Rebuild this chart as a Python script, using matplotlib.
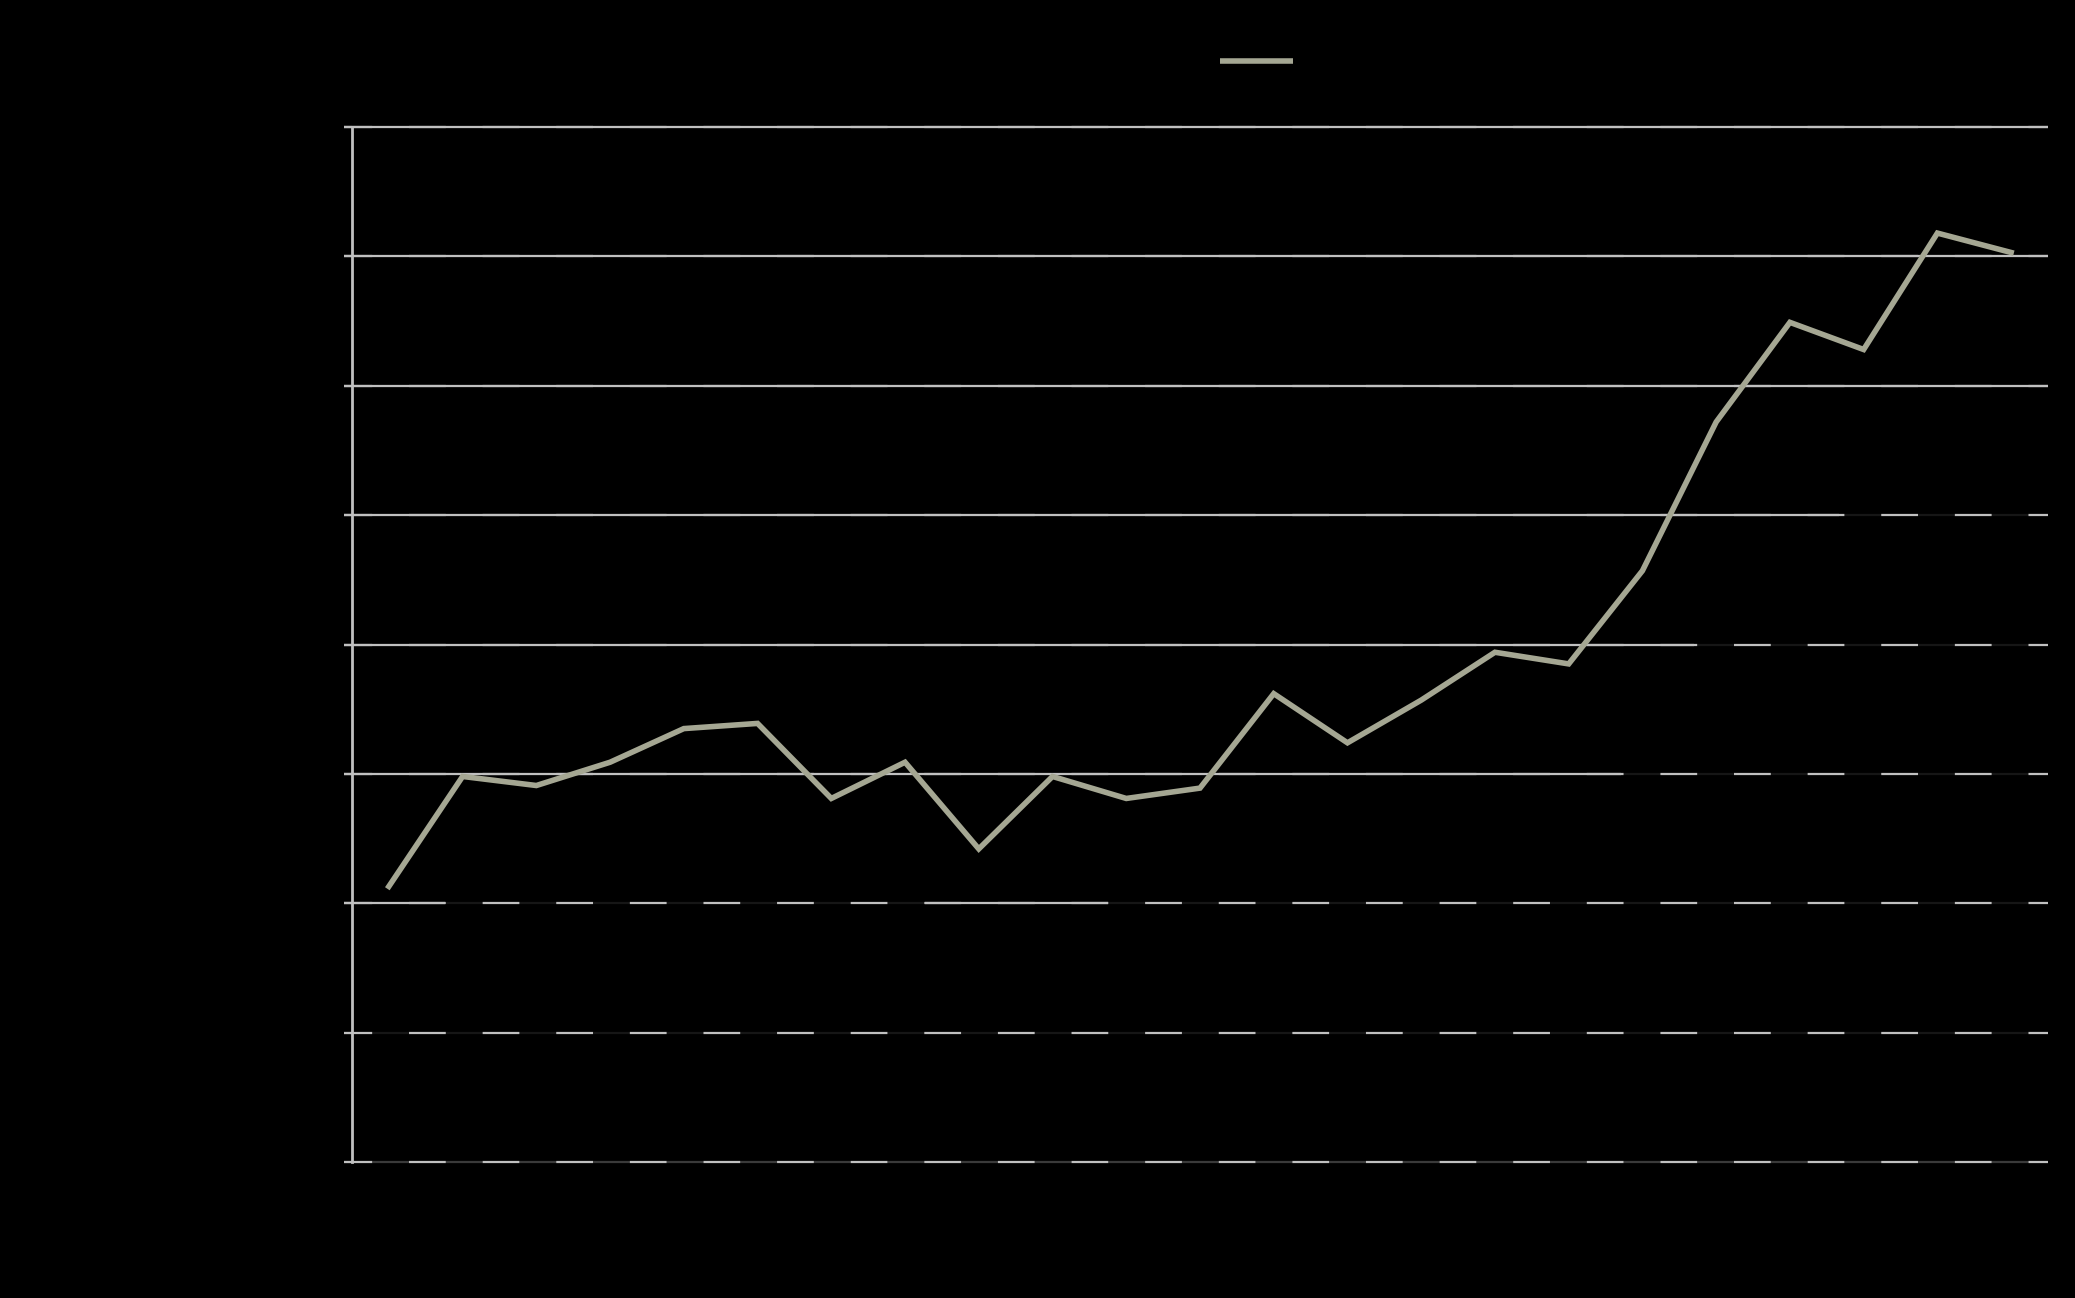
import numpy as np
import matplotlib.pyplot as plt
from matplotlib.lines import Line2D

plt.rcParams['lines.scale_dashes'] = False

#DATA (satuan = satu jarak grid)
kategori = list(range(1, 24))
nilai = [2.13, 2.98, 2.91, 3.09, 3.35, 3.39, 2.81, 3.09, 2.42, 2.98, 2.81, 2.89,
         3.62, 3.24, 3.57, 3.94, 3.85, 4.57, 5.72, 6.49, 6.28, 7.18, 7.03]
y_ticks = [0, 1, 2, 3, 4, 5, 6, 7, 8]

#STYLE
warna_garis = '#a5a793'
warna_grid = '#c0c0c0'
warna_celah = '#161616'
awal_grid = -0.0047       #grid mulai sedikit di kiri sumbu (ujung tick)
#bagian grid yang tampil utuh (tidak putus-putus), dalam pecahan lebar sumbu
grid_utuh = {8: [(awal_grid, 1.0)],
             7: [(awal_grid, 1.0)],
             6: [(awal_grid, 1.0)],
             5: [(awal_grid, 0.877)],
             4: [(awal_grid, 0.791)],
             3: [(awal_grid, 0.748)],
             2: [(awal_grid, 0.055), (0.338, 0.446)]}

fig = plt.figure(figsize=(20.75, 12.98), dpi=100, facecolor='black')
ax = fig.add_axes([352/2075, 1 - 1162/1298, 1696/2075, 1035/1298], facecolor='black')

x = np.arange(len(kategori))
ax.plot(x, nilai, color=warna_garis, lw=4.0, solid_joinstyle='miter', zorder=5)
ax.set_xlim(-0.5, len(kategori) - 0.5)
ax.set_ylim(0, 8)

#GRID
trans = ax.get_yaxis_transform()
for v in y_ticks:
    celah = '#3a3a3a' if v == 0 else warna_celah
    ax.plot([awal_grid, 1], [v, v], transform=trans, color=warna_grid, lw=1.6,
            linestyle=(6.2, (26.5, 26.5)), gapcolor=celah, clip_on=False, zorder=1)
    for a, b in grid_utuh.get(v, []):
        ax.plot([a, b], [v, v], transform=trans, color=warna_grid, lw=1.6,
                solid_capstyle='butt', clip_on=False, zorder=2)

#SUMBU
for s in ['top', 'right', 'bottom']:
    ax.spines[s].set_visible(False)
ax.spines['left'].set_color(warna_grid)
ax.spines['left'].set_linewidth(2)
ax.spines['left'].set_zorder(3)
ax.set_yticks(y_ticks)
ax.tick_params(axis='y', direction='out', length=5.8, width=1.5, color=warna_grid,
               labelleft=False)
ax.set_xticks(x)
ax.tick_params(axis='x', bottom=False, labelbottom=False)

#LEGEND
h = Line2D([], [], color=warna_garis, lw=4.0, solid_capstyle='butt')
fig.legend([h], [''], loc='center left', bbox_to_anchor=(1220/2075, 1 - 62/1298),
           frameon=False, borderpad=0, borderaxespad=0, fontsize=12,
           handlelength=4.38, handletextpad=0)

fig.savefig('out.png', dpi=100, facecolor='black')
